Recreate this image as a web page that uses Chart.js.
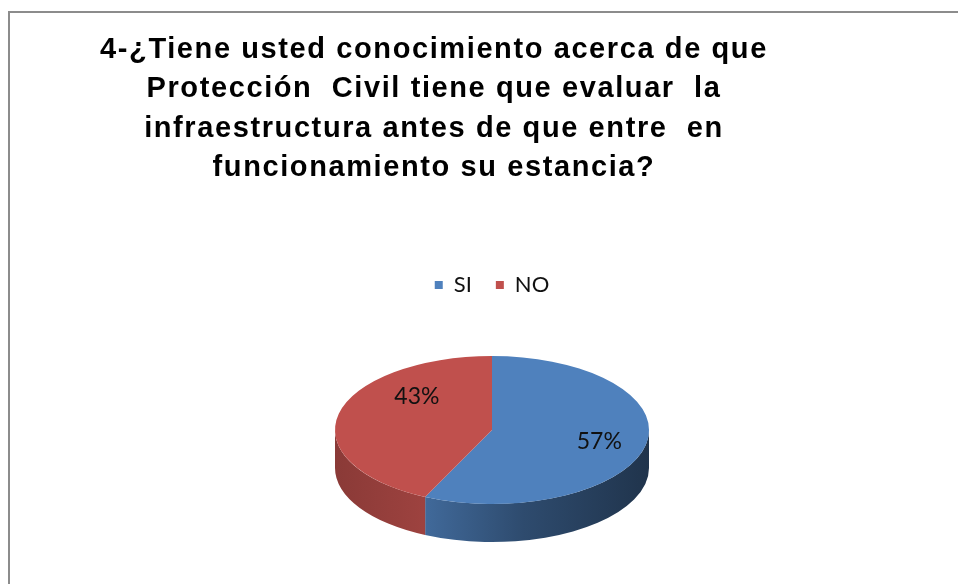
<!DOCTYPE html>
<html>
<head>
<meta charset="utf-8">
<script src="https://cdn.jsdelivr.net/npm/chart.js@4.4.1/dist/chart.umd.min.js"></script>
<style>
  html, body { margin: 0; padding: 0; background: #fff; }
  #wrap { position: relative; width: 958px; height: 584px; overflow: hidden; }
  #frame {
    position: absolute; left: 8px; top: 11px; width: 1000px; height: 700px;
    border-left: 2px solid #8c8c8c; border-top: 2px solid #8c8c8c;
  }
  #chart { position: absolute; left: 0; top: 0; }
</style>
</head>
<body>
<div id="wrap">
  <div id="frame"></div>
  <canvas id="chart" width="958" height="584"></canvas>
</div>
<script>
// ===== 3D pie: Protección Civil survey, question 4 =====

const titleLines = [
    "4-¿Tiene usted conocimiento acerca de que",
    "Protección  Civil tiene que evaluar  la",
    "infraestructura antes de que entre  en",
    "funcionamiento su estancia?"
];
const categories = ["SI", "NO"];
const percentValues = [57, 43];
const sliceColors = ["#4F81BD", "#C0504D"];

// look of the tilted pie
const squash = 74 / 157;   // vertical flattening of the top face
const depth = 38;          // thickness of the side wall in px

function shade(hex, k) {
    const n = parseInt(hex.slice(1), 16);
    const r = Math.round(((n >> 16) & 255) * k);
    const g = Math.round(((n >> 8) & 255) * k);
    const b = Math.round((n & 255) * k);
    return `rgb(${r},${g},${b})`;
}

// Title is centred a bit left of the pie, so it is drawn by hand
const titlePlugin = {
    id: "titleText",
    afterDraw(chart) {
        const ctx = chart.ctx;
        ctx.save();
        ctx.font = "bold 29px 'Liberation Sans', Arial, sans-serif";
        ctx.letterSpacing = "1.6px";
        ctx.fillStyle = "#000";
        ctx.textAlign = "center";
        ctx.textBaseline = "alphabetic";
        titleLines.forEach((line, i) => {
            ctx.fillText(line, 434, 58 + i * 39.3);
        });
        ctx.restore();
    }
};

// Side wall + flattened top face + percent labels
const pie3d = {
    id: "pie3d",
    beforeDatasetsDraw(chart) {
        const ctx = chart.ctx;
        const arcs = chart.getDatasetMeta(0).data;
        if (!arcs.length) return;
        const cx = arcs[0].x, cy = arcs[0].y, rx = arcs[0].outerRadius;
        const ry = rx * squash;

        arcs.forEach((arc, i) => {
            const s = Math.max(arc.startAngle, 0);
            const e = Math.min(arc.endAngle, Math.PI);
            if (e <= s) return;
            const base = sliceColors[i];
            const grad = ctx.createLinearGradient(cx - rx, 0, cx + rx, 0);
            grad.addColorStop(0, shade(base, 0.72));
            grad.addColorStop(0.28, shade(base, 0.82));
            grad.addColorStop(0.6, shade(base, 0.58));
            grad.addColorStop(1, shade(base, 0.4));
            ctx.beginPath();
            ctx.ellipse(cx, cy, rx, ry, 0, s, e);
            ctx.ellipse(cx, cy + depth, rx, ry, 0, e, s, true);
            ctx.closePath();
            ctx.fillStyle = grad;
            ctx.fill();
        });

        ctx.save();
        ctx.translate(cx, cy);
        ctx.scale(1, squash);
        ctx.translate(-cx, -cy);
    },
    afterDatasetsDraw(chart, args, opts) {
        const ctx = chart.ctx;
        ctx.restore();
        const arcs = chart.getDatasetMeta(0).data;
        ctx.save();
        ctx.font = "23px Lato, 'Open Sans', sans-serif";
        ctx.fillStyle = "#111";
        ctx.textAlign = "center";
        ctx.textBaseline = "middle";
        arcs.forEach((arc, i) => {
            const mid = (arc.startAngle + arc.endAngle) / 2;
            const p = opts.labelPlace[i];
            const r = arc.outerRadius * p.f;
            const x = arc.x + Math.cos(mid) * r;
            const y = arc.y + Math.sin(mid) * r * squash + p.dy;
            ctx.fillText(percentValues[i] + "%", x, y);
        });
        ctx.restore();
    }
};

const ctx = document.getElementById("chart").getContext("2d");
new Chart(ctx, {
    type: "pie",
    data: {
        labels: categories,
        datasets: [{
            data: percentValues,
            backgroundColor: sliceColors,
            borderWidth: 0
        }]
    },
    options: {
        responsive: false,
        animation: false,
        devicePixelRatio: 1,
        radius: 157,
        layout: {
            padding: { top: 250, bottom: 30, left: 26, right: 0 }
        },
        plugins: {
            legend: {
                position: "top",
                labels: {
                    boxWidth: 8,
                    boxHeight: 8,
                    padding: 24,
                    color: "#111",
                    font: { family: "Lato", size: 22 }
                }
            },
            tooltip: { enabled: false },
            pie3d: {
                labelPlace: [{ f: 0.7, dy: 0 }, { f: 0.49, dy: -26 }]
            }
        }
    },
    plugins: [pie3d, titlePlugin]
});
</script>
</body>
</html>
